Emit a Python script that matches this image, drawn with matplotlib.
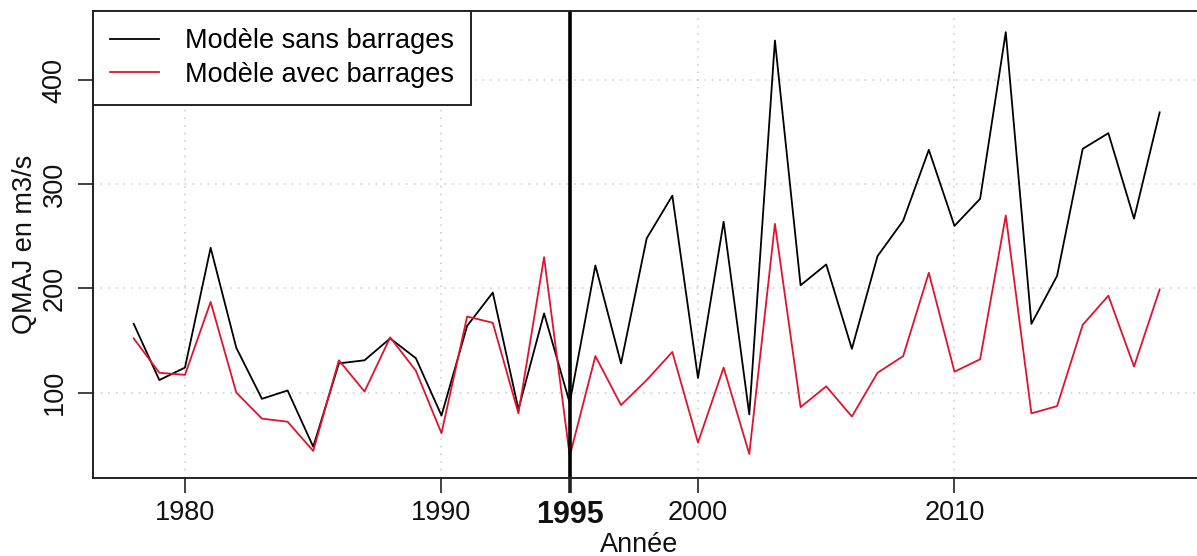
import matplotlib
matplotlib.use("Agg")
import matplotlib.pyplot as plt

plt.rcParams['font.family'] = ['Liberation Sans', 'DejaVu Sans']

# Annual series
years = list(range(1978, 2019))
sans_barrages = [166, 112, 124, 239, 143, 94, 102, 48, 128, 131, 152, 133, 78, 164,
                 196, 84, 176, 90, 222, 128, 248, 289, 114, 264, 79, 438, 203, 223,
                 142, 231, 265, 333, 260, 286, 446, 166, 212, 334, 349, 267, 369]
avec_barrages = [152, 119, 117, 187, 100, 75, 72, 44, 131, 101, 153, 121, 61, 173,
                 167, 80, 230, 39, 135, 88, 112, 139, 52, 124, 41, 262, 86, 106,
                 77, 119, 135, 215, 120, 132, 270, 80, 87, 165, 193, 125, 199]
xticks = [1980, 1990, 1995, 2000, 2010]
yticks = [100, 200, 300, 400]
annee_barrage = 1995

fig = plt.figure(figsize=(11.97, 5.56), dpi=100)
ax = fig.add_axes([0.0774, 0.1403, 0.9257, 0.8405])

# dotted grid
for x in [1980, 1990, 2000, 2010]:
    ax.axvline(x, color='#c8c8c8', lw=1.1, ls=(0, (1, 4)), zorder=0)
for y in yticks:
    ax.axhline(y, color='#c8c8c8', lw=1.1, ls=(0, (1, 4)), zorder=0)

ax.plot(years, sans_barrages, color='black', lw=1.3, label='Modèle sans barrages')
ax.plot(years, avec_barrages, color='#e0132e', lw=1.3, label='Modèle avec barrages')
ax.axvline(annee_barrage, color='black', lw=2.6)

ax.set_xlim(1976.4, 2019.6)
ax.set_ylim(18, 466.6)

ax.set_xticks(xticks)
ax.set_xticklabels([str(x) for x in xticks])
ax.set_yticks(yticks)
ax.set_yticklabels([str(y) for y in yticks], rotation=90, va='center')
ax.tick_params(axis='both', direction='out', length=11, width=1.2, labelsize=19.5,
               color='#222222', labelcolor='#111111')
ax.tick_params(axis='x', pad=5)
ax.tick_params(axis='y', pad=7)

# highlight the 1995 tick
t95 = ax.xaxis.get_major_ticks()[2]
t95.tick1line.set_markeredgewidth(2.6)
lab95 = ax.get_xticklabels()[2]
lab95.set_fontweight('bold')
lab95.set_fontsize(22)

for s in ax.spines.values():
    s.set_linewidth(1.4)
    s.set_color('#222222')

ax.set_xlabel('Année', fontsize=19.5, color='#111111')
ax.xaxis.set_label_coords(0.4935, -0.115)
ax.set_ylabel('QMAJ en m3/s', fontsize=19.5, color='#111111')
ax.yaxis.set_label_coords(-0.049, 0.5)

leg = ax.legend(loc='upper left', fontsize=19.5, frameon=True, fancybox=False,
                edgecolor='#222222', framealpha=1, borderaxespad=0,
                handlelength=1.8, handletextpad=0.95, borderpad=0.65,
                labelspacing=0.28)
leg.get_frame().set_linewidth(1.4)

fig.savefig('out.png', dpi=100)
